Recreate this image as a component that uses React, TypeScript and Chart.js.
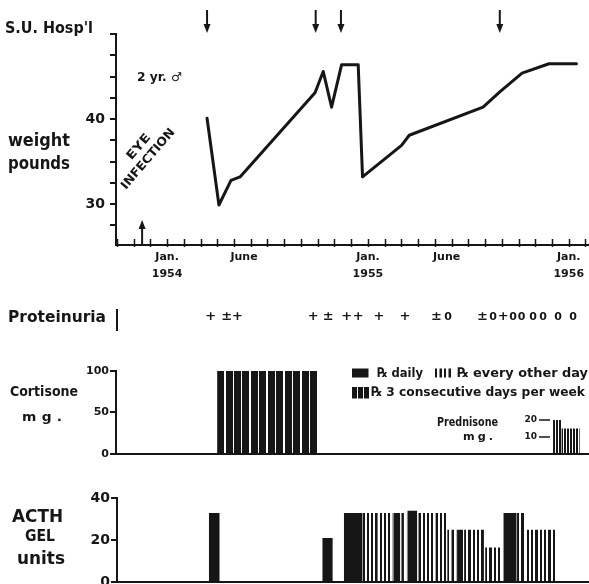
import { useEffect, useRef } from 'react';
import { Chart, registerables } from 'chart.js';

Chart.register(...registerables);

const INK = '#161616';
const FONT = '"DejaVu Sans", sans-serif';
Chart.defaults.color = INK;
Chart.defaults.font.family = FONT;

// time axis: months counted from Jan. 1954
const X_MIN = -3.05;
const X_MAX = 25.15;
const xTickMonth = [0, 4.6, 12, 16.7, 24];
const xTickText = [['Jan.', '1954'], 'June', ['Jan.', '1955'], 'June', ['Jan.', '1956']];

// weight curve
const weightMonth = [2.39, 3.1, 3.82, 4.36, 8.84, 9.33, 9.83, 10.43, 11.42, 11.68, 14.01, 14.47, 18.88, 19.88, 21.21, 22.82, 24.46];
const weightLb = [40.1, 29.9, 32.8, 33.2, 43.1, 45.6, 41.4, 46.4, 46.4, 33.2, 36.9, 38.1, 41.4, 43.2, 45.4, 46.5, 46.5];
const weightTickShown = [30, 40];
const hospMonth = [2.39, 8.88, 10.39, 19.88];
const eyeInfectionMonth = [-1.49];

// proteinuria readings
const proteinMonth = [2.61, 3.56, 4.2, 8.73, 9.63, 10.73, 11.42, 12.66, 14.21, 16.1, 16.79, 18.85, 19.48, 20.08, 20.67, 21.18, 21.87, 22.47, 23.36, 24.26];
const proteinMark = ['+', '±', '+', '+', '±', '+', '+', '+', '+', '±', '0', '±', '0', '+', '0', '0', '0', '0', '0', '0'];

// cortisone mg
const cortStart = [2.99];
const cortEnd = [9.01];
const cortDose = [100];
const cortRx = ['3x'];

// prednisone mg
const predStart = [23.06, 23.56];
const predEnd = [23.56, 24.66];
const predDose = [20, 15];
const predRx = ['eod', 'eod'];
const predTicks = [10, 20];

// ACTH gel units
const acthStart = [2.45, 9.24, 10.53, 11.64, 13.49, 13.97, 14.33, 14.99, 16.72, 17.31, 17.73, 18.99, 20.08, 20.9, 21.49];
const acthEnd = [3.1, 9.87, 11.62, 13.45, 13.91, 14.27, 14.93, 16.72, 17.28, 17.67, 18.99, 19.98, 20.88, 21.43, 23.22];
const acthDose = [33, 21, 33, 33, 33, 33, 34, 33, 25, 25, 25, 16.5, 33, 33, 25];
const acthRx = ['daily', 'daily', 'daily', 'eod', 'daily', 'eod', 'daily', 'eod', 'eod', 'daily', 'eod', 'eod', 'daily', 'eod', 'eod'];

function stripes(ctx: CanvasRenderingContext2D, period: number, ink: number, x0: number) {
  const S = 20;
  const tile = document.createElement('canvas');
  tile.width = Math.round(period * S);
  tile.height = 1;
  const g = tile.getContext('2d')!;
  g.fillStyle = INK;
  g.fillRect(0, 0, Math.round(ink * S), 1);
  const p = ctx.createPattern(tile, 'repeat')!;
  p.setTransform(new DOMMatrix().translate(x0, 0).scale(1 / S, 1));
  return p;
}

function rxFill(chart: any, rx: string, start: number, eodPeriod: number) {
  if (rx === 'daily' || !chart.chartArea) return INK;
  const x0 = chart.scales.x.getPixelForValue(start);
  if (rx === 'eod') return stripes(chart.ctx, eodPeriod, eodPeriod * 0.52, x0);
  return stripes(chart.ctx, 8.47, 7, x0);
}

function rxSets(start: number[], end: number[], dose: number[], rx: string[], yAxisID: string, eodPeriod: number) {
  return start.map((s, i) => ({
    data: [{ x: s, y: dose[i] }, { x: end[i], y: dose[i] }],
    yAxisID,
    fill: 'origin',
    borderColor: 'rgba(0,0,0,0)',
    borderWidth: 0,
    pointRadius: 0,
    backgroundColor: (c: any) => rxFill(c.chart, rx[i], s, eodPeriod),
  }));
}

function textBox(ctx: CanvasRenderingContext2D, text: string, x0: number, x1: number, y: number, size: number, spacing = 0) {
  ctx.save();
  ctx.font = `bold ${size}px ${FONT}`;
  (ctx as any).letterSpacing = `${spacing}px`;
  const w = ctx.measureText(text).width - spacing;
  ctx.translate(x0, y);
  ctx.scale((x1 - x0) / w, 1);
  ctx.fillStyle = INK;
  ctx.textAlign = 'left';
  ctx.textBaseline = 'middle';
  ctx.fillText(text, 0, 0);
  ctx.restore();
}

function textRot(ctx: CanvasRenderingContext2D, text: string, cx: number, cy: number, len: number, size: number, ang: number) {
  ctx.save();
  ctx.font = `bold ${size}px ${FONT}`;
  const w = ctx.measureText(text).width;
  ctx.translate(cx, cy);
  ctx.rotate(ang);
  ctx.scale(len / w, 1);
  ctx.fillStyle = INK;
  ctx.textAlign = 'center';
  ctx.textBaseline = 'middle';
  ctx.fillText(text, 0, 0);
  ctx.restore();
}

function arrow(ctx: CanvasRenderingContext2D, x: number, yTail: number, yHead: number) {
  const d = Math.sign(yHead - yTail);
  ctx.save();
  ctx.strokeStyle = INK;
  ctx.fillStyle = INK;
  ctx.lineWidth = 2;
  ctx.beginPath();
  ctx.moveTo(x, yTail);
  ctx.lineTo(x, yHead - d * 6);
  ctx.stroke();
  ctx.beginPath();
  ctx.moveTo(x - 3.5, yHead - d * 9);
  ctx.lineTo(x + 3.5, yHead - d * 9);
  ctx.lineTo(x, yHead);
  ctx.closePath();
  ctx.fill();
  ctx.restore();
}

// pin the axis boxes so the plot areas line up across the three canvases
const fixX = (h: number) => (s: any) => { s.height = h; s.paddingLeft = 0; s.paddingRight = 0; };
const fixY = (w: number) => (s: any) => { s.width = w; s.paddingTop = 0; s.paddingBottom = 0; };

const axisGrid = { display: true, drawOnChartArea: false, drawTicks: true, tickLength: 6, lineWidth: 2, color: INK };
const axisBorder = { display: true, width: 2, color: INK };

function xBase(labels: boolean, h: number): any {
  return {
    type: 'linear',
    min: X_MIN,
    max: X_MAX,
    grid: { display: false, drawTicks: false },
    border: axisBorder,
    afterFit: fixX(h),
    ticks: labels
      ? { autoSkip: false, maxRotation: 0, padding: 4, font: { size: 11, weight: 'bold', lineHeight: 1.5 }, callback: (_v: any, i: number) => xTickText[i] }
      : { display: false },
    afterBuildTicks: labels ? (s: any) => { s.ticks = xTickMonth.map((value) => ({ value })); } : undefined,
  };
}

const weightConfig = (): any => ({
  type: 'line',
  data: {
    datasets: [{
      data: weightMonth.map((x, i) => ({ x, y: weightLb[i] })),
      borderColor: INK,
      borderWidth: 3,
      pointRadius: 0,
      tension: 0,
      borderJoinStyle: 'round',
      borderCapStyle: 'round',
    }],
  },
  options: {
    responsive: true,
    maintainAspectRatio: false,
    animation: false,
    events: [],
    layout: { padding: { left: 0, right: 1, top: 34, bottom: 0 } },
    plugins: { legend: { display: false }, tooltip: { enabled: false } },
    scales: {
      x: xBase(true, 45),
      y: {
        min: 25.2,
        max: 50,
        grid: axisGrid,
        border: axisBorder,
        afterFit: fixY(116),
        ticks: {
          stepSize: 2.5,
          includeBounds: false,
          autoSkip: false,
          padding: 5,
          font: { size: 14, weight: 'bold' },
          callback: (v: number) => (weightTickShown.includes(v) ? String(v) : ''),
        },
      },
    },
  },
  plugins: [{
    id: 'weightNotes',
    afterDraw(chart: any) {
      const { ctx, chartArea } = chart;
      const x = chart.scales.x;
      ctx.save();
      ctx.strokeStyle = INK;
      ctx.lineWidth = 1.5;
      for (let m = Math.ceil(X_MIN); m <= Math.floor(X_MAX); m++) {
        const px = Math.round(x.getPixelForValue(m)) + 0.5;
        ctx.beginPath();
        ctx.moveTo(px, chartArea.bottom - 6);
        ctx.lineTo(px, chartArea.bottom + 2);
        ctx.stroke();
      }
      ctx.restore();
      hospMonth.forEach((m) => arrow(ctx, x.getPixelForValue(m), 10, 33));
      eyeInfectionMonth.forEach((m) => arrow(ctx, x.getPixelForValue(m), 245, 220));
      textBox(ctx, "S.U. Hosp'l", 5, 93, 29, 16);
      textBox(ctx, '2 yr. ♂', 137, 182, 78, 12);
      textBox(ctx, 'weight', 8, 70, 141, 18);
      textBox(ctx, 'pounds', 8, 70, 164, 18);
      const ang = -49.4 * Math.PI / 180;
      textRot(ctx, 'EYE', 139, 147, 30, 12, ang);
      textRot(ctx, 'INFECTION', 148.3, 159, 76, 12, ang);
    },
  }],
});

const cortConfig = (): any => ({
  type: 'line',
  data: {
    datasets: [
      ...rxSets(cortStart, cortEnd, cortDose, cortRx, 'y', 4.3),
      ...rxSets(predStart, predEnd, predDose, predRx, 'y2', 3),
    ],
  },
  options: {
    responsive: true,
    maintainAspectRatio: false,
    animation: false,
    events: [],
    layout: { padding: { left: 0, right: 1, top: 80.7, bottom: 14 } },
    plugins: { legend: { display: false }, tooltip: { enabled: false } },
    scales: {
      x: xBase(false, 0),
      y: {
        min: 0,
        max: 100,
        grid: axisGrid,
        border: axisBorder,
        afterFit: fixY(116),
        ticks: { stepSize: 50, autoSkip: false, padding: 1, font: { size: 11, weight: 'bold' } },
      },
      y2: { display: false, min: 0, max: 49 },
    },
  },
  plugins: [{
    id: 'cortNotes',
    afterDraw(chart: any) {
      const { ctx } = chart;
      const x = chart.scales.x;
      const y2 = chart.scales.y2;
      // proteinuria row
      textBox(ctx, 'Proteinuria', 8, 106, 28, 15);
      ctx.save();
      ctx.strokeStyle = INK;
      ctx.lineWidth = 2;
      ctx.beginPath();
      ctx.moveTo(117, 19);
      ctx.lineTo(117, 41);
      ctx.stroke();
      ctx.fillStyle = INK;
      ctx.textAlign = 'center';
      ctx.textBaseline = 'middle';
      proteinMark.forEach((s, i) => {
        ctx.font = `bold ${s === '0' ? 11 : 13}px ${FONT}`;
        ctx.fillText(s, x.getPixelForValue(proteinMonth[i]), 27);
      });
      ctx.restore();
      textBox(ctx, 'Cortisone', 10, 78, 102, 14);
      textBox(ctx, 'mg.', 22, 62, 128, 13, 5);
      // legend
      ctx.save();
      ctx.fillStyle = INK;
      ctx.fillRect(352, 78.5, 16.5, 9);
      ctx.fillStyle = stripes(ctx, 4.5, 2.3, 435);
      ctx.fillRect(435, 78.5, 18, 9);
      ctx.fillStyle = stripes(ctx, 6, 5, 352);
      ctx.fillRect(352, 97, 17, 11.5);
      ctx.restore();
      textBox(ctx, '℞ daily', 377, 423, 83.5, 13);
      textBox(ctx, '℞ every other day', 457, 588, 83.5, 13);
      textBox(ctx, '℞ 3 consecutive days per week', 371, 585, 102.5, 13);
      // prednisone scale
      textBox(ctx, 'Prednisone', 437, 498, 133, 12);
      textBox(ctx, 'mg.', 463, 493, 147, 11, 3);
      ctx.save();
      ctx.fillStyle = INK;
      ctx.strokeStyle = INK;
      ctx.lineWidth = 1.5;
      ctx.font = `bold 9px ${FONT}`;
      ctx.textAlign = 'right';
      ctx.textBaseline = 'middle';
      predTicks.forEach((v) => {
        const py = y2.getPixelForValue(v);
        ctx.fillText(String(v), 537, py);
        ctx.beginPath();
        ctx.moveTo(539, py);
        ctx.lineTo(550, py);
        ctx.stroke();
      });
      ctx.restore();
    },
  }],
});

const acthConfig = (): any => ({
  type: 'line',
  data: { datasets: rxSets(acthStart, acthEnd, acthDose, acthRx, 'y', 4.3) },
  options: {
    responsive: true,
    maintainAspectRatio: false,
    animation: false,
    events: [],
    layout: { padding: { left: 0, right: 1, top: 30.3, bottom: 2 } },
    plugins: { legend: { display: false }, tooltip: { enabled: false } },
    scales: {
      x: xBase(false, 0),
      y: {
        min: 0,
        max: 40,
        grid: axisGrid,
        border: axisBorder,
        afterFit: fixY(117),
        ticks: { stepSize: 20, autoSkip: false, padding: 1, font: { size: 14, weight: 'bold' } },
      },
    },
  },
  plugins: [{
    id: 'acthNotes',
    afterDraw(chart: any) {
      const { ctx } = chart;
      textBox(ctx, 'ACTH', 12, 63, 50, 17);
      textBox(ctx, 'GEL', 25, 55, 69, 15);
      textBox(ctx, 'units', 17, 65, 92, 17);
    },
  }],
});

function Panel({ top, height, make }: { top: number; height: number; make: () => any }) {
  const canvasRef = useRef<HTMLCanvasElement>(null);
  useEffect(() => {
    const ctx = canvasRef.current?.getContext('2d');
    if (!ctx) return;
    const chart = new Chart(ctx, make());
    return () => { chart.destroy(); };
  }, [make]);
  return (
    <div style={{ position: 'absolute', left: 0, top, width: 589, height }}>
      <canvas ref={canvasRef} />
    </div>
  );
}

export default function App() {
  return (
    <div style={{ position: 'absolute', left: 0, top: 0, width: 589, height: 584, background: '#fff', overflow: 'hidden' }}>
      <Panel top={0} height={290} make={weightConfig} />
      <Panel top={290} height={178} make={cortConfig} />
      <Panel top={468} height={116} make={acthConfig} />
    </div>
  );
}
